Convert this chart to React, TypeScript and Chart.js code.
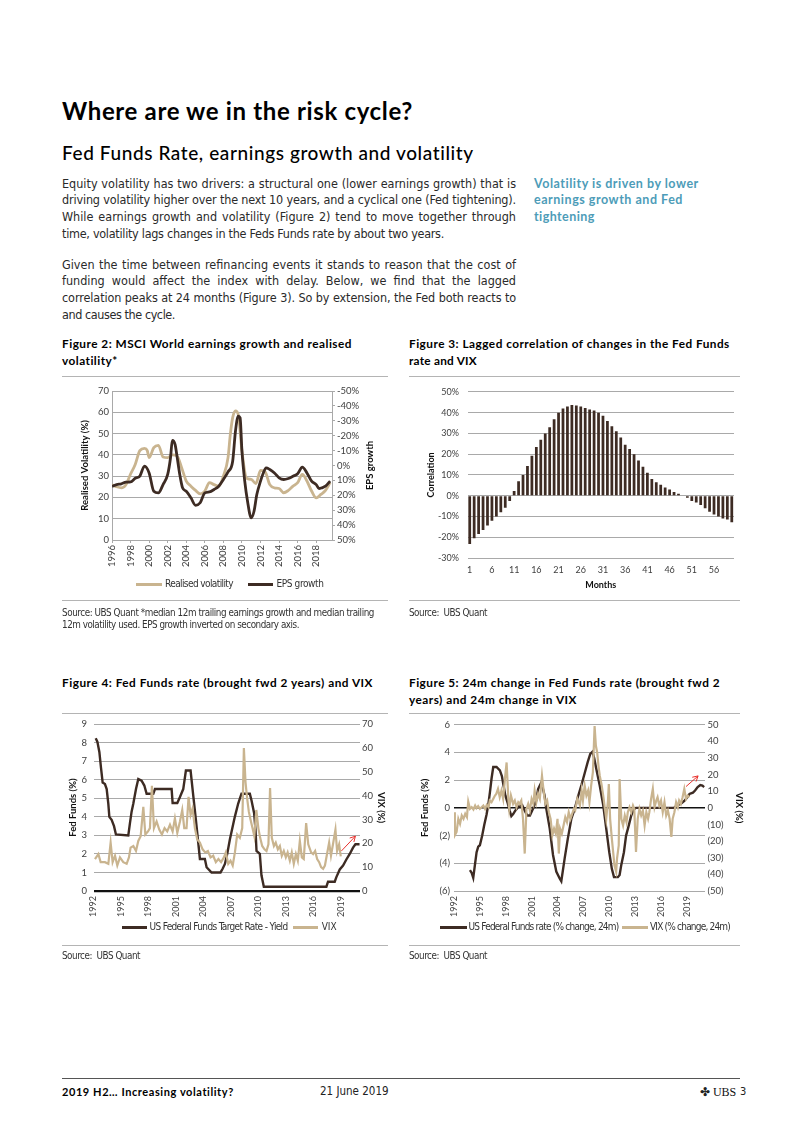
import React, { useEffect, useLayoutEffect, useRef } from 'react';
import { Chart, registerables } from 'chart.js';

Chart.register(...registerables);

const SANS = 'Lato, "Noto Sans", "Open Sans", sans-serif';
const NARROW = '"Liberation Sans Narrow", "DejaVu Sans Condensed", "Roboto Condensed", "Liberation Sans", sans-serif';

Chart.defaults.font.family = SANS;
Chart.defaults.color = '#404040';

const DARK = '#3d2b23';
const BEIGE = '#c9b48f';
const GRID = '#a9a9a9';
const RED = '#e8322e';
const TEAL = '#4d9cb8';

// ---------- Figure 2 data ----------
const fig2VolYears = [1996.0, 1996.5, 1997.0, 1997.5, 1998.0, 1998.5, 1999.0, 1999.5, 1999.8, 2000.0,
  2000.5, 2001.0, 2001.5, 2002.0, 2002.5, 2003.0, 2003.5, 2004.0, 2004.5, 2005.0,
  2005.5, 2006.0, 2006.5, 2007.0, 2007.5, 2008.0, 2008.5, 2008.75, 2009.0, 2009.3,
  2009.6, 2010.0, 2010.5, 2011.0, 2011.5, 2012.0, 2012.5, 2013.0, 2013.5, 2014.0,
  2014.5, 2015.0, 2015.5, 2016.0, 2016.5, 2017.0, 2017.5, 2018.0, 2018.5, 2019.0, 2019.5];
const fig2Vol = [26, 25, 24.5, 26, 31, 35.5, 42, 43, 42, 38.7,
  43.4, 44.5, 39, 38.7, 40, 39.5, 34, 27.7, 25.3, 23.3,
  21.7, 23, 27, 26, 25.3, 30, 38.7, 49.7, 57.5, 60.7,
  59, 41.8, 29, 28.5, 26.5, 32.7, 32, 26, 24.5, 24.2,
  22.2, 23.3, 25.3, 26.9, 30.8, 27.7, 23, 19.8, 21.4, 23.3, 27];
const fig2EpsYears = [1996.0, 1996.5, 1997.0, 1997.5, 1998.0, 1998.5, 1999.0, 1999.5, 2000.0, 2000.5,
  2001.0, 2001.5, 2002.0, 2002.3, 2002.5, 2002.8, 2003.0, 2003.3, 2003.6, 2004.0,
  2004.5, 2005.0, 2005.5, 2006.0, 2006.5, 2007.0, 2007.5, 2008.0, 2008.5, 2009.0,
  2009.3, 2009.6, 2009.8, 2010.0, 2010.3, 2010.6, 2011.0, 2011.3, 2011.6, 2012.0,
  2012.3, 2012.6, 2013.0, 2013.5, 2014.0, 2014.5, 2015.0, 2015.5, 2016.0, 2016.5,
  2017.0, 2017.5, 2018.0, 2018.3, 2018.6, 2019.0, 2019.5];
const fig2Eps = [14, 12.8, 12.3, 11.2, 11, 8.6, 7.1, 0.4, 5, 17.3,
  18.4, 12.8, 6, -5, -16.8, -14, -6.3, 6, 15, 17.3,
  21.7, 26.7, 25, 18.4, 17.7, 16.1, 13.9, 9.4, 4.3, -2.9,
  -23, -33.2, -32, -9.6, 10.5, 24, 35.2, 30.7, 19.5, 10.5,
  5, 1.6, 2.7, 5, 8.3, 9.4, 8.7, 7.2, 5.6, 1.1,
  5, 10.5, 12.8, 15.5, 15, 13.9, 10.5];

// ---------- Figure 3 data ----------
const fig3Months = Array.from({ length: 60 }, (_, i) => String(i + 1));
const fig3Corr = [-23.2, -20.5, -18.5, -16.5, -14.3, -12, -10, -8, -5.8, -2.5,
  2.3, 7, 10, 14.3, 19.2, 23.5, 27, 30, 33, 36.8,
  40, 42, 43, 43.7, 43.5, 43, 42.3, 41.5, 41, 40,
  38.5, 36, 33.5, 31, 28, 24.5, 22.5, 20, 17, 14,
  11, 8, 6.5, 5.3, 4, 3, 1.8, 1, 0.2, -1,
  -2.5, -3.3, -4.5, -6, -7.7, -9, -10, -11, -11.5, -12.8];

// ---------- Figure 4 data (year, value) ----------
const fig4FedFunds = [[1992.24, 8.24], [1992.42, 8.06], [1992.64, 7.5], [1992.82, 6.65], [1993.0, 5.85], [1993.25, 5.77], [1993.44, 5.5], [1993.62, 4.7], [1993.73, 4.0], [1993.98, 3.84], [1994.24, 3.5], [1994.45, 3.05], [1995.8, 3.0], [1995.98, 3.66], [1996.16, 4.28], [1996.35, 4.72], [1996.64, 5.5], [1996.89, 6.04], [1997.25, 5.95], [1997.55, 5.69], [1997.8, 5.25], [1998.53, 5.25], [1998.71, 5.5], [2000.53, 5.5], [2000.64, 4.75], [2001.15, 4.75], [2001.44, 5.07], [2001.8, 5.5], [2002.09, 6.5], [2002.6, 6.5], [2002.89, 5.16], [2003.18, 3.84], [2003.44, 2.6], [2003.62, 1.73], [2004.16, 1.73], [2004.35, 1.28], [2004.89, 1.0], [2005.87, 1.0], [2006.1, 1.2], [2006.35, 1.46], [2006.6, 2.0], [2006.89, 2.78], [2007.43, 4.0], [2007.8, 4.72], [2008.16, 5.25], [2009.07, 5.25], [2009.25, 4.9], [2009.54, 4.2], [2009.69, 3.3], [2009.8, 2.16], [2010.16, 2.0], [2010.34, 0.85], [2010.6, 0.23], [2017.43, 0.23], [2017.61, 0.5], [2018.34, 0.5], [2018.52, 0.75], [2018.89, 1.16], [2019.25, 1.37], [2019.61, 1.7], [2019.98, 2.0], [2020.34, 2.34], [2020.6, 2.52], [2021.05, 2.52]];
const fig4Vix = [[1992.16, 13.4], [1992.53, 15.5], [1992.78, 12.1], [1993.25, 12.1], [1993.62, 11.4], [1993.87, 20.3], [1994.09, 12.1], [1994.35, 14.8], [1994.6, 10.7], [1994.89, 14.1], [1995.25, 12.1], [1995.62, 11.4], [1995.87, 14.1], [1996.05, 18.2], [1996.35, 18.9], [1996.64, 16.8], [1996.89, 21], [1997.15, 23], [1997.44, 35.3], [1997.66, 23.7], [1997.95, 25], [1998.16, 26.4], [1998.38, 44.2], [1998.6, 26.4], [1998.89, 29.2], [1999.18, 25.8], [1999.47, 23.7], [1999.76, 26.4], [2000.05, 25], [2000.35, 27.8], [2000.64, 25], [2000.89, 30.5], [2001.15, 24.4], [2001.44, 29.2], [2001.69, 34], [2001.91, 26.4], [2002.16, 26.4], [2002.38, 39.5], [2002.6, 31.9], [2002.82, 34.7], [2003.07, 26.4], [2003.33, 21.6], [2003.62, 20.3], [2003.91, 17.5], [2004.2, 16.2], [2004.49, 16.8], [2004.78, 14.1], [2005.07, 14.8], [2005.36, 12.1], [2005.64, 13.4], [2005.93, 12.1], [2006.24, 14.1], [2006.45, 16.2], [2006.71, 11.4], [2006.96, 12.7], [2007.2, 10.7], [2007.44, 16.2], [2007.69, 23.7], [2007.98, 22.3], [2008.24, 26.4], [2008.42, 60], [2008.6, 45.6], [2008.78, 38.8], [2008.96, 33.3], [2009.15, 29.9], [2009.36, 26.4], [2009.56, 23], [2009.78, 34], [2010.0, 26.4], [2010.2, 22.3], [2010.42, 18.9], [2010.67, 17.5], [2010.89, 16.8], [2011.1, 19.6], [2011.28, 43.2], [2011.47, 22.3], [2011.7, 18.9], [2011.9, 20.3], [2012.13, 17.5], [2012.35, 18.9], [2012.56, 14.8], [2012.78, 16.8], [2013.0, 14.1], [2013.2, 16.2], [2013.44, 12.7], [2013.65, 16.2], [2013.87, 11.4], [2014.1, 15.5], [2014.31, 12.7], [2014.53, 21], [2014.75, 14.1], [2014.96, 13.4], [2015.1, 21.6], [2015.22, 28.5], [2015.45, 19.6], [2015.76, 16.2], [2015.98, 15.5], [2016.2, 16.8], [2016.42, 13.4], [2016.64, 12.1], [2016.85, 10], [2017.07, 9.3], [2017.27, 10.7], [2017.5, 15.5], [2017.73, 20.3], [2017.93, 14.8], [2018.15, 19.6], [2018.42, 25.8], [2018.6, 16.8], [2018.82, 19.6], [2019.0, 14.5]];
const fig4Arrow = { from: [2019.07, 16.8], to: [2020.6, 23.0] };

// ---------- Figure 5 data (year, value) ----------
const fig5FedFunds = [[1993.85, -4.5], [1994.05, -4.7], [1994.23, -5.05], [1994.43, -4.1], [1994.62, -3.2], [1994.81, -2.8], [1995.0, -2.7], [1995.27, -2.0], [1995.5, -1.25], [1995.77, -0.5], [1995.97, 0.2], [1996.16, 1.1], [1996.35, 2.1], [1996.55, 2.95], [1996.93, 2.95], [1997.32, 2.7], [1997.55, 2.3], [1997.75, 1.6], [1997.95, 0.9], [1998.2, 0.4], [1998.45, -0.2], [1998.65, -0.6], [1998.86, -0.45], [1999.1, -0.2], [1999.5, 0.1], [1999.9, 0.2], [2000.2, -0.2], [2000.5, -0.55], [2000.8, -0.55], [2001.17, -0.05], [2001.55, 0.55], [2001.75, 1.35], [2002.13, 1.85], [2002.5, 0.9], [2002.7, -0.05], [2003.1, -1.5], [2003.48, -3.4], [2003.86, -4.6], [2004.25, -5.1], [2004.44, -5.3], [2004.83, -3.65], [2005.2, -2.2], [2005.6, -0.8], [2005.98, -0.1], [2006.37, 0.8], [2006.8, 1.7], [2007.15, 2.5], [2007.5, 3.3], [2007.8, 3.9], [2008.05, 4.05], [2008.25, 3.6], [2008.5, 2.8], [2008.9, 1.6], [2009.3, 0.2], [2009.65, -1.5], [2010.0, -3.2], [2010.3, -4.4], [2010.55, -5.0], [2011.0, -5.0], [2011.2, -4.85], [2011.4, -4.1], [2011.7, -3.2], [2011.95, -2.0], [2012.25, -1.3], [2012.55, -0.55], [2012.85, -0.1], [2013.1, 0.0], [2017.5, 0.0], [2017.8, 0.15], [2018.3, 0.3], [2018.7, 0.5], [2019.1, 0.8], [2019.3, 1.0], [2019.7, 1.1], [2019.95, 1.25], [2020.25, 1.5], [2020.55, 1.65], [2020.8, 1.6], [2021.0, 1.5]];
const fig5Vix = [[1992.0, -2.6], [1992.1, -16.5], [1992.3, -14.5], [1992.5, -6.6], [1992.7, -9.6], [1992.9, -4.6], [1993.1, -6.6], [1993.3, -3.6], [1993.5, -5.6], [1993.65, 3.8], [1993.85, -0.6], [1994.05, 0.4], [1994.25, -1], [1994.45, 1.4], [1994.6, -0.2], [1994.8, 1.0], [1995.0, -0.6], [1995.2, 0.4], [1995.4, 1.4], [1995.6, -0.6], [1995.8, 1.8], [1996.0, 0.4], [1996.15, 4.4], [1996.35, 3.4], [1996.55, 5.4], [1996.75, 7.4], [1996.9, 8.4], [1997.1, 11.4], [1997.3, 6.4], [1997.5, 10.4], [1997.7, 5.4], [1997.9, 17.3], [1998.1, 27.3], [1998.3, 5.4], [1998.4, -0.6], [1998.6, 7.4], [1998.85, 2.4], [1999.05, 4.4], [1999.25, 0.4], [1999.45, 3.4], [1999.6, 2.4], [1999.8, 4.4], [2000.0, -6.6], [2000.2, -27.5], [2000.4, -0.6], [2000.6, 2.4], [2000.8, -1.6], [2001.0, 5.4], [2001.2, 2.4], [2001.35, 10.4], [2001.55, 3.4], [2001.75, 8.4], [2001.95, 5.4], [2002.2, 19.3], [2002.45, 7.4], [2002.6, 2.4], [2002.8, 4.4], [2003.0, -2.6], [2003.2, -6.6], [2003.4, -16.5], [2003.6, -12.5], [2003.8, -15.5], [2004.0, -6.6], [2004.15, -27.5], [2004.3, -12.5], [2004.5, -15.5], [2004.7, -10.6], [2004.9, -5.6], [2005.1, -8.6], [2005.3, -2.6], [2005.5, -6.6], [2005.7, -3.6], [2005.9, -0.6], [2006.05, -1.6], [2006.3, 5.4], [2006.6, 1.4], [2006.8, 10.4], [2006.95, 4.4], [2007.15, 13.3], [2007.35, 7.4], [2007.55, 10.4], [2007.7, 3.4], [2007.9, 13.3], [2008.1, 21.3], [2008.3, 49.2], [2008.45, 37.3], [2008.6, 33.3], [2008.75, 25.3], [2008.9, 19.3], [2009.1, 14.3], [2009.3, 7.4], [2009.45, 1.4], [2009.65, -6.6], [2009.85, 4.4], [2009.95, 14.3], [2010.1, -6.6], [2010.3, -18.5], [2010.45, -26.5], [2010.6, -34.5], [2010.8, -38.4], [2010.9, -30.5], [2011.1, -22.5], [2011.2, 17.3], [2011.4, -6.6], [2011.6, -10.6], [2011.8, -4.6], [2012.0, -8.6], [2012.15, -2.6], [2012.35, 0.4], [2012.55, -2.6], [2012.75, 1.4], [2012.9, -0.6], [2013.1, -26.5], [2013.3, -6.6], [2013.5, -0.6], [2013.7, -4.6], [2013.9, -1.6], [2014.1, -10.6], [2014.3, -2.6], [2014.5, -6.6], [2014.65, -2.6], [2014.85, 5.4], [2015.05, 11.4], [2015.25, 0.4], [2015.45, 4.4], [2015.6, 6.4], [2015.8, 1.4], [2016.0, 4.4], [2016.2, -2.6], [2016.4, 3.4], [2016.6, -4.6], [2016.8, -1.6], [2017.0, -6.6], [2017.2, -17.5], [2017.35, -6.6], [2017.55, -2.6], [2017.75, 3.4], [2017.95, 0.4], [2018.1, 4.4], [2018.3, 2.4], [2018.5, 6.4], [2018.7, 11.4], [2018.9, 5.4], [2019.1, 7.4], [2019.3, 6.4]];
const fig5Arrow = { from: [2018.9, 12.8], to: [2020.3, 19.2] };

// ---------- helpers ----------
const tickFont = { family: SANS, size: 9.5 };
const tickFont9 = { family: SANS, size: 9 };
const axisTitleFont = { family: SANS, size: 9.5, weight: 'bold' };
const pairs = (arr: number[][]) => arr.map(([x, y]) => ({ x, y }));
const paren = (v: number) => (v < 0 ? `(${-v})` : String(v));
const keepSteps = (min: number, step: number) => (axis: any) => {
  axis.ticks = axis.ticks.filter((t: any) => Number.isInteger(t.value) && (t.value - min) % step === 0);
};

const sideTitlePlugin = {
  id: 'sideTitle',
  afterDraw(chart: any, _args: any, opts: any) {
    if (!opts || !opts.text) return;
    const s = chart.scales[opts.axis];
    const ctx = chart.ctx;
    ctx.save();
    ctx.font = opts.font;
    ctx.fillStyle = opts.color;
    ctx.translate(s.right - opts.offset, (chart.chartArea.top + chart.chartArea.bottom) / 2);
    ctx.rotate(-Math.PI / 2);
    ctx.textAlign = 'center';
    ctx.textBaseline = 'middle';
    ctx.fillText(opts.text, 0, 0);
    ctx.restore();
  },
};

const arrowPlugin = {
  id: 'arrow',
  afterDatasetsDraw(chart: any, _args: any, opts: any) {
    if (!opts || !opts.from) return;
    const xs = chart.scales.x;
    const ys = chart.scales[opts.axis];
    const x1 = xs.getPixelForValue(opts.from[0]);
    const y1 = ys.getPixelForValue(opts.from[1]);
    const x2 = xs.getPixelForValue(opts.to[0]);
    const y2 = ys.getPixelForValue(opts.to[1]);
    const a = Math.atan2(y2 - y1, x2 - x1);
    const L = 6;
    const ctx = chart.ctx;
    ctx.save();
    ctx.strokeStyle = RED;
    ctx.lineWidth = 1;
    ctx.beginPath();
    ctx.moveTo(x1, y1);
    ctx.lineTo(x2, y2);
    ctx.moveTo(x2 - L * Math.cos(a - 0.5), y2 - L * Math.sin(a - 0.5));
    ctx.lineTo(x2, y2);
    ctx.lineTo(x2 - L * Math.cos(a + 0.5), y2 - L * Math.sin(a + 0.5));
    ctx.stroke();
    ctx.restore();
  },
};

const baseOpts = {
  animation: false,
  responsive: true,
  maintainAspectRatio: false,
  events: [],
};

function makeFig2(): any {
  return {
    type: 'line',
    data: {
      datasets: [
        { label: 'Realised volatility', data: fig2VolYears.map((x, i) => ({ x, y: fig2Vol[i] })), yAxisID: 'y', borderColor: BEIGE, backgroundColor: BEIGE, borderWidth: 2.8, pointRadius: 0, cubicInterpolationMode: 'monotone', order: 2 },
        { label: 'EPS growth', data: fig2EpsYears.map((x, i) => ({ x, y: fig2Eps[i] })), yAxisID: 'y1', borderColor: DARK, backgroundColor: DARK, borderWidth: 2.8, pointRadius: 0, cubicInterpolationMode: 'monotone', order: 1 },
      ],
    },
    options: {
      ...baseOpts,
      layout: { padding: { top: 11, left: 0, right: 0, bottom: 0 } },
      plugins: {
        legend: { display: false },
        tooltip: { enabled: false },
        sideTitle: { text: 'EPS growth', axis: 'y1', offset: 20, font: `bold 9.5px ${SANS}`, color: '#111' },
      },
      scales: {
        x: {
          type: 'linear', min: 1996, max: 2019.7,
          afterBuildTicks: keepSteps(1996, 2),
          ticks: { stepSize: 2, includeBounds: false, minRotation: 90, maxRotation: 90, padding: 2, font: tickFont, color: '#404040', callback: (v: any) => String(v) },
          grid: { drawOnChartArea: false, drawTicks: true, tickLength: 3, color: GRID },
          border: { color: GRID },
          afterFit: (s: any) => { s.height = 40; },
        },
        y: {
          position: 'left', min: 0, max: 70,
          ticks: { stepSize: 10, padding: 3, font: tickFont, color: '#404040' },
          grid: { color: GRID, drawTicks: false },
          border: { color: GRID },
          title: { display: true, text: 'Realised Volatility (%)', font: axisTitleFont, color: '#111', padding: { top: 17.3, bottom: 0 } },
          afterFit: (s: any) => { s.width = 50; },
        },
        y1: {
          position: 'right', min: -50, max: 50, reverse: true,
          ticks: { stepSize: 10, padding: 2, font: tickFont, color: '#404040', callback: (v: any) => `${v}%` },
          grid: { drawOnChartArea: false, drawTicks: true, tickLength: 3, color: GRID },
          border: { color: GRID },
          afterFit: (s: any) => { s.width = 58; },
        },
      },
    },
    plugins: [sideTitlePlugin],
  };
}

function makeFig3(): any {
  return {
    type: 'bar',
    data: {
      labels: fig3Months,
      datasets: [{ label: 'Correlation', data: fig3Corr, backgroundColor: DARK, barPercentage: 0.62, categoryPercentage: 1 }],
    },
    options: {
      ...baseOpts,
      layout: { padding: { top: 9, right: 11, left: 0, bottom: 0 } },
      plugins: { legend: { display: false }, tooltip: { enabled: false } },
      scales: {
        x: {
          ticks: { autoSkip: false, maxRotation: 0, minRotation: 0, padding: 7, font: tickFont9, color: '#404040', callback: (_v: any, i: number) => (i % 5 === 0 ? fig3Months[i] : '') },
          grid: { display: false, drawTicks: false },
          border: { display: false },
          title: { display: true, text: 'Months', font: { family: SANS, size: 9, weight: 'bold' }, color: '#111', padding: { top: 0, bottom: 1.6 } },
          afterFit: (s: any) => { s.height = 34; },
        },
        y: {
          min: -30, max: 50,
          ticks: { stepSize: 10, padding: 8.5, font: tickFont9, color: '#404040', callback: (v: any) => `${v}%` },
          grid: { color: GRID, drawTicks: false },
          border: { display: false },
          title: { display: true, text: 'Correlation', font: { family: SANS, size: 9, weight: 'bold' }, color: '#111', padding: { top: 17.1, bottom: 0 } },
          afterFit: (s: any) => { s.width = 58.5; },
        },
      },
    },
  };
}

function makeFig4(): any {
  return {
    type: 'line',
    data: {
      datasets: [
        { label: 'US Federal Funds Target Rate - Yield', data: pairs(fig4FedFunds), yAxisID: 'y', borderColor: DARK, backgroundColor: DARK, borderWidth: 2.4, pointRadius: 0, order: 2 },
        { label: 'VIX', data: pairs(fig4Vix), yAxisID: 'y1', borderColor: BEIGE, backgroundColor: BEIGE, borderWidth: 2.2, pointRadius: 0, order: 1 },
      ],
    },
    options: {
      ...baseOpts,
      layout: { padding: { top: 8.7, left: 0, right: 0, bottom: 0 } },
      plugins: { legend: { display: false }, tooltip: { enabled: false }, arrow: { ...fig4Arrow, axis: 'y1' } },
      scales: {
        x: {
          type: 'linear', min: 1992, max: 2021.1,
          afterBuildTicks: keepSteps(1992, 3),
          ticks: { stepSize: 3, includeBounds: false, minRotation: 90, maxRotation: 90, padding: 5, font: tickFont9, color: '#404040', callback: (v: any) => String(v) },
          grid: { display: false, drawTicks: false },
          border: { display: false },
          afterFit: (s: any) => { s.height = 43; },
        },
        y: {
          position: 'left', min: 0, max: 9,
          ticks: { stepSize: 1, padding: 6.5, font: tickFont, color: '#404040' },
          grid: { drawTicks: false, color: (c: any) => (c.tick && c.tick.value === 0 ? '#111' : GRID), lineWidth: (c: any) => (c.tick && c.tick.value === 0 ? 2.2 : 1) },
          border: { display: false },
          title: { display: true, text: 'Fed Funds (%)', font: axisTitleFont, color: '#111', padding: { top: 5.3, bottom: 0 } },
          afterFit: (s: any) => { s.width = 31.5; },
        },
        y1: {
          position: 'right', min: 0, max: 70,
          ticks: { stepSize: 10, padding: 2, font: tickFont, color: '#404040' },
          grid: { drawOnChartArea: false, drawTicks: false },
          border: { display: false },
          title: { display: true, text: 'VIX (%)', font: axisTitleFont, color: '#111', padding: { top: 3.3, bottom: 0 } },
          afterFit: (s: any) => { s.width = 30; },
        },
      },
    },
    plugins: [arrowPlugin],
  };
}

function makeFig5(): any {
  return {
    type: 'line',
    data: {
      datasets: [
        { label: 'US Federal Funds rate (% change, 24m)', data: pairs(fig5FedFunds), yAxisID: 'y', borderColor: DARK, backgroundColor: DARK, borderWidth: 2.4, pointRadius: 0, order: 2 },
        { label: 'VIX (% change, 24m)', data: pairs(fig5Vix), yAxisID: 'y1', borderColor: BEIGE, backgroundColor: BEIGE, borderWidth: 2.2, pointRadius: 0, order: 1 },
      ],
    },
    options: {
      ...baseOpts,
      layout: { padding: { top: 8.3, left: 0, right: 0, bottom: 0 } },
      plugins: { legend: { display: false }, tooltip: { enabled: false }, arrow: { ...fig5Arrow, axis: 'y1' } },
      scales: {
        x: {
          type: 'linear', min: 1992, max: 2021.1,
          afterBuildTicks: keepSteps(1992, 3),
          ticks: { stepSize: 3, includeBounds: false, minRotation: 90, maxRotation: 90, padding: 5, font: tickFont9, color: '#404040', callback: (v: any) => String(v) },
          grid: { display: false, drawTicks: false },
          border: { display: false },
          afterFit: (s: any) => { s.height = 43; },
        },
        y: {
          position: 'left', min: -6, max: 6,
          ticks: { stepSize: 2, padding: 4, font: tickFont, color: '#404040', callback: (v: any) => paren(v) },
          grid: { drawTicks: false, color: (c: any) => (c.tick && c.tick.value === 0 ? '#111' : GRID), lineWidth: (c: any) => (c.tick && c.tick.value === 0 ? 1.6 : 1) },
          border: { display: false },
          title: { display: true, text: 'Fed Funds (%)', font: axisTitleFont, color: '#111', padding: { top: 10.3, bottom: 0 } },
          afterFit: (s: any) => { s.width = 45; },
        },
        y1: {
          position: 'right', min: -50, max: 50,
          ticks: { stepSize: 10, padding: 2.5, font: tickFont, color: '#404040', callback: (v: any) => paren(v) },
          grid: { drawOnChartArea: false, drawTicks: false },
          border: { display: false },
          title: { display: true, text: 'VIX (%)', font: axisTitleFont, color: '#111', padding: { top: 0, bottom: 0 } },
          afterFit: (s: any) => { s.width = 40; },
        },
      },
    },
    plugins: [arrowPlugin],
  };
}

// ---------- components ----------
function ChartBox({ x, y, w, h, make }: any) {
  const ref = useRef<HTMLCanvasElement>(null);
  useEffect(() => {
    const chart = new Chart(ref.current as HTMLCanvasElement, make());
    return () => chart.destroy();
  }, []);
  return (
    <div style={{ position: 'absolute', left: x, top: y, width: w, height: h }}>
      <canvas ref={ref} />
    </div>
  );
}

function Txt({ x, y, w, size, family = SANS, weight = 400, color = '#222', justify = false, children }: any) {
  const ref = useRef<HTMLSpanElement>(null);
  useLayoutEffect(() => {
    const el = ref.current;
    if (!el || !w) return;
    const fit = () => {
      el.style.wordSpacing = '0px';
      el.style.letterSpacing = '0px';
      const nat = el.getBoundingClientRect().width;
      const text = el.textContent || '';
      const spaces = (text.match(/ /g) || []).length;
      const extra = w - nat;
      if (justify && spaces > 0 && extra > 0) el.style.wordSpacing = `${extra / spaces}px`;
      else el.style.letterSpacing = `${extra / Math.max(1, text.length)}px`;
    };
    fit();
    const fonts = (document as any).fonts;
    if (fonts && fonts.ready) fonts.ready.then(fit);
  }, [w, justify, children]);
  return (
    <span
      ref={ref}
      style={{ position: 'absolute', left: x, top: y - size * 0.6, fontSize: size, lineHeight: `${size * 1.2}px`, fontFamily: family, fontWeight: weight, color, whiteSpace: 'pre' }}
    >
      {children}
    </span>
  );
}

function Rule({ x, y, w, color = '#b4b4b4', h = 1 }: any) {
  return <div style={{ position: 'absolute', left: x, top: y, width: w, height: h, background: color }} />;
}

function Swatch({ x, y, w, color }: any) {
  return <div style={{ position: 'absolute', left: x, top: y - 1.5, width: w, height: 3, background: color }} />;
}

const para1 = [
  'Equity volatility has two drivers: a structural one (lower earnings growth) that is',
  'driving volatility higher over the next 10 years, and a cyclical one (Fed tightening).',
  'While earnings growth and volatility (Figure 2) tend to move together through',
  'time, volatility lags changes in the Feds Funds rate by about two years.',
];
const para1W = [454, 454, 454, 382];
const para2 = [
  'Given the time between refinancing events it stands to reason that the cost of',
  'funding would affect the index with delay. Below, we find that the lagged',
  'correlation peaks at 24 months (Figure 3). So by extension, the Fed both reacts to',
  'and causes the cycle.',
];
const para2W = [454, 454, 454, 113];
const sideNote = ['Volatility is driven by lower', 'earnings growth and Fed', 'tightening'];
const sideNoteW = [165, 149, 61];

export default function App() {
  const LH = 16.9;
  return (
    <div style={{ position: 'absolute', left: 0, top: 0, width: 802, height: 1133, background: '#fff', overflow: 'hidden' }}>
      <Txt x={62} y={111} w={351} size={24} weight={700} color="#000">Where are we in the risk cycle?</Txt>
      <Txt x={62} y={153} w={412} size={19} weight={500} color="#000">Fed Funds Rate, earnings growth and volatility</Txt>

      {para1.map((t, i) => (
        <Txt key={'p1' + i} x={62} y={183 + i * LH} w={para1W[i]} size={12.5} family={NARROW} color="#2a2a2a" justify>{t}</Txt>
      ))}
      {para2.map((t, i) => (
        <Txt key={'p2' + i} x={62} y={264 + i * LH} w={para2W[i]} size={12.5} family={NARROW} color="#2a2a2a" justify>{t}</Txt>
      ))}
      {sideNote.map((t, i) => (
        <Txt key={'sn' + i} x={534} y={183 + i * LH} w={sideNoteW[i]} size={12.5} weight={700} color={TEAL}>{t}</Txt>
      ))}

      {/* Figure 2 */}
      <Txt x={62} y={344} w={290} size={11.8} weight={700} color="#000">Figure 2: MSCI World earnings growth and realised</Txt>
      <Txt x={62} y={361} w={56} size={11.8} weight={700} color="#000">volatility*</Txt>
      <Rule x={62} y={376} w={326} />
      <ChartBox x={62} y={380} w={328} h={200} make={makeFig2} />
      <Swatch x={136} y={584} w={26} color={BEIGE} />
      <Txt x={165} y={584} w={68} size={10} family={NARROW} color="#333">Realised volatility</Txt>
      <Swatch x={248} y={584} w={25} color={DARK} />
      <Txt x={276.5} y={584} w={47} size={10} family={NARROW} color="#333">EPS growth</Txt>
      <Rule x={62} y={600} w={326} />
      <Txt x={62} y={613} w={312} size={9.8} family={NARROW} color="#333">Source: UBS Quant *median 12m trailing earnings growth and median trailing</Txt>
      <Txt x={62} y={625} w={237} size={9.8} family={NARROW} color="#333">12m volatility used. EPS growth inverted on secondary axis.</Txt>

      {/* Figure 3 */}
      <Txt x={409} y={344} w={321} size={11.8} weight={700} color="#000">Figure 3: Lagged correlation of changes in the Fed Funds</Txt>
      <Txt x={409} y={361} w={68} size={11.8} weight={700} color="#000">rate and VIX</Txt>
      <Rule x={409} y={376} w={331} />
      <ChartBox x={409} y={378} w={336} h={214} make={makeFig3} />
      <Rule x={409} y={600} w={331} />
      <Txt x={409} y={613} w={78} size={9.8} family={NARROW} color="#333">{'Source:  UBS Quant'}</Txt>

      {/* Figure 4 */}
      <Txt x={62} y={683} w={311} size={11.8} weight={700} color="#000">Figure 4: Fed Funds rate (brought fwd 2 years) and VIX</Txt>
      <Rule x={62} y={713} w={326} />
      <ChartBox x={62} y={712} w={328} h={222} make={makeFig4} />
      <Swatch x={121.7} y={927} w={25.6} color={DARK} />
      <Txt x={149.5} y={927} w={138} size={10} family={NARROW} color="#333">US Federal Funds Target Rate - Yield</Txt>
      <Swatch x={293} y={927} w={25} color={BEIGE} />
      <Txt x={321.7} y={927} size={10} family={NARROW} color="#333">VIX</Txt>
      <Rule x={62} y={945} w={326} />
      <Txt x={62} y={956} w={78} size={9.8} family={NARROW} color="#333">{'Source:  UBS Quant'}</Txt>

      {/* Figure 5 */}
      <Txt x={409} y={683} w={311} size={11.8} weight={700} color="#000">Figure 5: 24m change in Fed Funds rate (brought fwd 2</Txt>
      <Txt x={409} y={700} w={168} size={11.8} weight={700} color="#000">years) and 24m change in VIX</Txt>
      <Rule x={409} y={713} w={331} />
      <ChartBox x={409} y={715} w={336} h={219} make={makeFig5} />
      <Swatch x={440} y={927} w={26.7} color={DARK} />
      <Txt x={468.5} y={927} w={150} size={10} family={NARROW} color="#333">US Federal Funds rate (% change, 24m)</Txt>
      <Swatch x={621.7} y={927} w={26.6} color={BEIGE} />
      <Txt x={650} y={927} w={80} size={10} family={NARROW} color="#333">VIX (% change, 24m)</Txt>
      <Rule x={409} y={945} w={331} />
      <Txt x={409} y={956} w={78} size={9.8} family={NARROW} color="#333">{'Source:  UBS Quant'}</Txt>

      {/* Footer */}
      <Rule x={62} y={1078} w={678} color="#555" />
      <Txt x={62} y={1092} w={172} size={11} weight={700} color="#000">2019 H2… Increasing volatility?</Txt>
      <Txt x={320} y={1092} size={11.5} family={NARROW} color="#222">21 June 2019</Txt>
      <Txt x={700} y={1092} size={12} family={'"DejaVu Sans", sans-serif'} color="#222">✤</Txt>
      <Txt x={713} y={1092} w={23} size={12} family={'"Liberation Serif", serif'} color="#111">UBS</Txt>
      <Txt x={740} y={1092} size={11} family={NARROW} color="#222">3</Txt>
    </div>
  );
}
